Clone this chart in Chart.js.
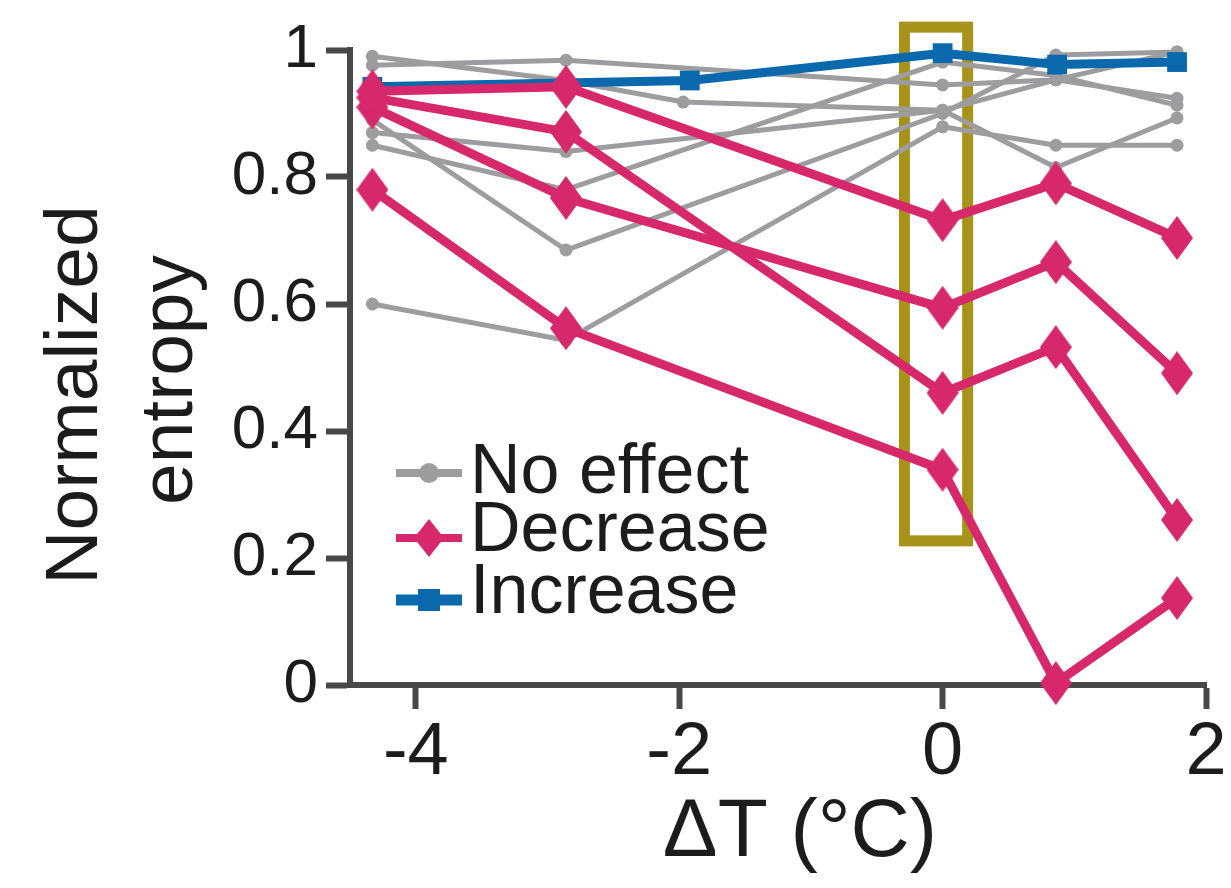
<!DOCTYPE html>
<html>
<head>
<meta charset="utf-8">
<script src="https://cdn.jsdelivr.net/npm/chart.js@4.4.1/dist/chart.umd.min.js"></script>
<style>
  html, body { margin: 0; padding: 0; background: #fff; }
  #wrap { width: 1231px; height: 888px; position: relative; }
</style>
</head>
<body>
<div id="wrap"><canvas id="chartCanvas"></canvas></div>
<script>
// temperature offsets (°C) at which each group was measured
const tempsMain = [-4.33, -2.86, 0, 0.86, 1.78];
const tempsGrayMid = [-4.33, -2.86, -1.97, 0, 0.86, 1.78];
const tempsIncrease = [-4.33, -1.92, 0, 0.87, 1.78];

// no effect (gray)
const noEffect1 = [0.976, 0.984, 0.945, 0.953, 0.924];
const noEffect2 = [0.99, 0.952, 0.918, 0.905, 0.815, 0.893];
const noEffect3 = [0.85, 0.78, 0.981, 0.96, 0.913];
const noEffect4 = [0.89, 0.685, 0.9, 0.992, 0.997];
const noEffect5 = [0.60, 0.543, 0.879, 0.85, 0.85];
const noEffect6 = [0.87, 0.84, 0.905, 0.953, 0.997];

// decrease (pink)
const decrease1 = [0.935, 0.942, 0.732, 0.79, 0.704];
const decrease2 = [0.925, 0.871, 0.46, 0.532, 0.26];
const decrease3 = [0.91, 0.767, 0.594, 0.666, 0.491];
const decrease4 = [0.78, 0.562, 0.339, 0.003, 0.137];

// increase (blue)
const increase1 = [0.942, 0.952, 0.995, 0.977, 0.981];

const xTicks = [-4, -2, 0, 2];
const yTicks = [0, 0.2, 0.4, 0.6, 0.8, 1];

// highlighted window around dT = 0 (data units)
const boxX = [-0.29, 0.19];
const boxY = [0.227, 1.036];

const FONT = '"Liberation Sans", Arial, Helvetica, sans-serif';
const GRAY = '#9d9d9f';
const PINK = '#d6286a';
const BLUE = '#0a69ac';
const OLIVE = '#a8931a';
const AXIS = '#484848';
const TEXT = '#1c1c1c';

function toPoints(xs, ys) {
    return ys.map((y, i) => ({ x: xs[i], y: y }));
}

function makeDiamond(w, h, color) {
    const c = document.createElement('canvas');
    c.width = w;
    c.height = h;
    const g = c.getContext('2d');
    g.fillStyle = color;
    g.beginPath();
    g.moveTo(w / 2, 0);
    g.lineTo(w, h / 2);
    g.lineTo(w / 2, h);
    g.lineTo(0, h / 2);
    g.closePath();
    g.fill();
    return c;
}

const diamond = makeDiamond(32, 44, PINK);

function pinkSet(values) {
    return {
        label: 'Decrease',
        data: toPoints(tempsMain, values),
        showLine: true,
        borderColor: PINK,
        borderWidth: 9,
        borderJoinStyle: 'round',
        pointStyle: diamond,
        pointRadius: 16,
        clip: false
    };
}

function graySet(xs, values) {
    return {
        label: 'No effect',
        data: toPoints(xs, values),
        showLine: true,
        borderColor: GRAY,
        borderWidth: 5,
        borderJoinStyle: 'round',
        pointStyle: 'circle',
        pointRadius: 6.5,
        pointBackgroundColor: GRAY,
        pointBorderWidth: 0,
        clip: false
    };
}

const datasets = [
    pinkSet(decrease1),
    pinkSet(decrease2),
    pinkSet(decrease3),
    pinkSet(decrease4),
    {
        label: 'Increase',
        data: toPoints(tempsIncrease, increase1),
        showLine: true,
        borderColor: BLUE,
        borderWidth: 9,
        borderJoinStyle: 'round',
        pointStyle: 'rect',
        pointRadius: 14,
        pointBackgroundColor: BLUE,
        pointBorderWidth: 0,
        clip: false
    },
    graySet(tempsMain, noEffect1),
    graySet(tempsGrayMid, noEffect2),
    graySet(tempsMain, noEffect3),
    graySet(tempsMain, noEffect4),
    graySet(tempsMain, noEffect5),
    graySet(tempsMain, noEffect6)
];

// olive rectangle drawn under the data
const highlightBox = {
    id: 'highlightBox',
    beforeDatasetsDraw(chart) {
        const { ctx, scales } = chart;
        const l = scales.x.getPixelForValue(boxX[0]);
        const r = scales.x.getPixelForValue(boxX[1]);
        const t = scales.y.getPixelForValue(boxY[1]);
        const b = scales.y.getPixelForValue(boxY[0]);
        ctx.save();
        ctx.strokeStyle = OLIVE;
        ctx.lineWidth = 11;
        ctx.strokeRect(l, t, r - l, b - t);
        ctx.restore();
    }
};

// axis titles (y title in two rotated lines)
const axisTitles = {
    id: 'axisTitles',
    afterDraw(chart) {
        const ctx = chart.ctx;
        const lines = [
            { text: 'Normalized', x: 97, y: 395 },
            { text: 'entropy', x: 192, y: 380 }
        ];
        lines.forEach(l => {
            ctx.save();
            ctx.fillStyle = TEXT;
            ctx.font = '75px ' + FONT;
            ctx.textAlign = 'center';
            ctx.textBaseline = 'alphabetic';
            ctx.translate(l.x, l.y);
            ctx.rotate(-Math.PI / 2);
            ctx.fillText(l.text, 0, 0);
            ctx.restore();
        });
        ctx.save();
        ctx.fillStyle = TEXT;
        ctx.font = '82px ' + FONT;
        ctx.textAlign = 'center';
        ctx.textBaseline = 'alphabetic';
        ctx.fillText('ΔT (°C)', 800, 856);
        ctx.restore();
    }
};

// legend inside the plot area
const innerLegend = {
    id: 'innerLegend',
    afterDraw(chart) {
        const ctx = chart.ctx;
        const items = [
            { text: 'No effect', color: GRAY, mark: 'circle', y: 473, base: 493 },
            { text: 'Decrease', color: PINK, mark: 'diamond', y: 538, base: 551 },
            { text: 'Increase', color: BLUE, mark: 'rect', y: 600, base: 613 }
        ];
        items.forEach(it => {
            ctx.save();
            ctx.strokeStyle = it.color;
            ctx.fillStyle = it.color;
            ctx.lineWidth = it.mark === 'rect' ? 11 : 8;
            ctx.beginPath();
            ctx.moveTo(396, it.y);
            ctx.lineTo(462, it.y);
            ctx.stroke();
            if (it.mark === 'circle') {
                ctx.beginPath();
                ctx.arc(429, it.y, 10, 0, Math.PI * 2);
                ctx.fill();
            } else if (it.mark === 'diamond') {
                ctx.drawImage(makeDiamond(30, 38, PINK), 429 - 15, it.y - 19);
            } else {
                ctx.fillRect(418, it.y - 11, 22, 22);
            }
            ctx.fillStyle = TEXT;
            ctx.font = '70px ' + FONT;
            ctx.textBaseline = 'alphabetic';
            ctx.fillText(it.text, 470, it.base);
            ctx.restore();
        });
    }
};

const ctx = document.getElementById('chartCanvas').getContext('2d');
const chart = new Chart(ctx, {
    type: 'scatter',
    data: { datasets: datasets },
    options: {
        responsive: true,
        maintainAspectRatio: false,
        animation: false,
        layout: { padding: { top: 50, right: 20, left: 0, bottom: 0 } },
        plugins: {
            legend: { display: false },
            tooltip: { enabled: false }
        },
        scales: {
            x: {
                type: 'linear',
                min: -4.5,
                max: 2,
                afterBuildTicks: s => { s.ticks = xTicks.map(v => ({ value: v })); },
                afterFit: s => { s.height = 203; },
                border: { color: AXIS, width: 6 },
                grid: { drawOnChartArea: false, drawTicks: true, tickLength: 24, tickWidth: 6, tickColor: AXIS },
                ticks: { font: { family: FONT, size: 74 }, color: TEXT, padding: 0, maxRotation: 0 }
            },
            y: {
                min: 0,
                max: 1,
                afterBuildTicks: s => { s.ticks = yTicks.map(v => ({ value: v })); },
                afterFit: s => { s.width = 350; },
                border: { color: AXIS, width: 6 },
                grid: { drawOnChartArea: false, drawTicks: true, tickLength: 24, tickWidth: 6, tickColor: AXIS },
                ticks: {
                    font: { family: FONT, size: 62 },
                    color: TEXT,
                    padding: 8,
                    callback: v => String(Number(v.toFixed(1)))
                }
            }
        }
    },
    plugins: [highlightBox, axisTitles, innerLegend]
});
</script>
</body>
</html>
